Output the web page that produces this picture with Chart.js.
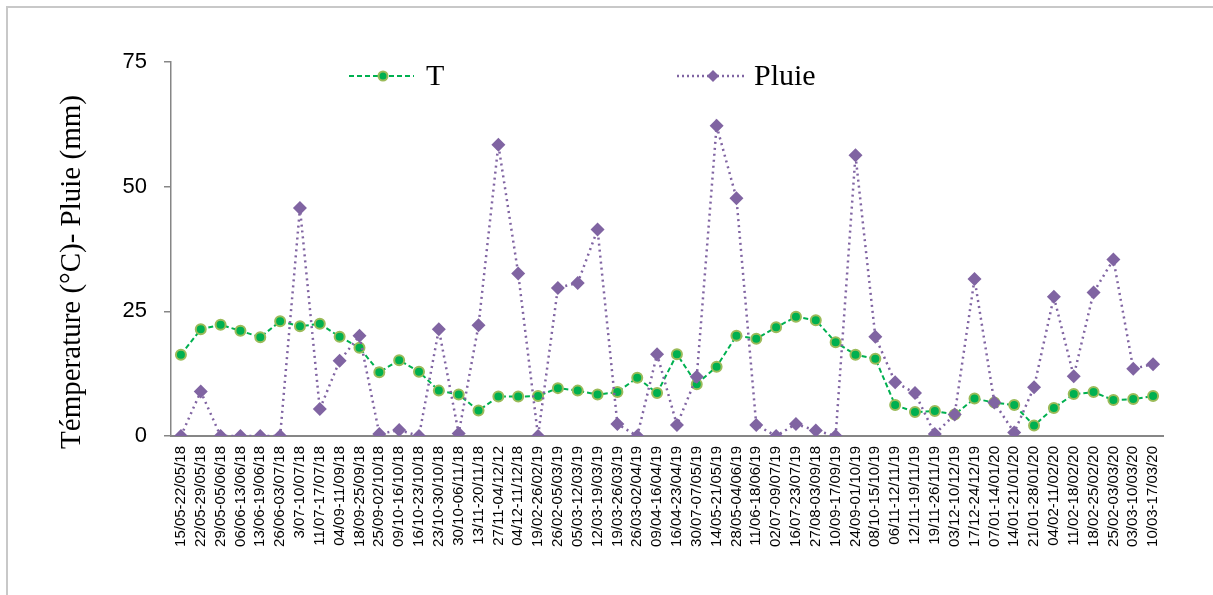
<!DOCTYPE html>
<html lang="fr">
<head>
  <meta charset="UTF-8" />
  <title>Température et pluie</title>
  <script src="https://cdn.jsdelivr.net/npm/chart.js"></script>
  <style>
    html, body { margin: 0; padding: 0; background: #ffffff; }
    #wrap { width: 1213px; height: 595px; position: relative; }
  </style>
</head>
<body>
  <div id="wrap"><canvas id="graphe" width="1213" height="595"></canvas></div>

  <script>
    // semaines de mesure
    const semaines = [
      '15/05-22/05/18', '22/05-29/05/18', '29/05-05/06/18', '06/06-13/06/18', '13/06-19/06/18',
      '26/06-03/07/18', '3/07-10/07/18', '11/07-17/07/18', '04/09-11/09/18', '18/09-25/09/18',
      '25/09-02/10/18', '09/10-16/10/18', '16/10-23/10/18', '23/10-30/10/18', '30/10-06/11/18',
      '13/11-20/11/18', '27/11-04/12/12', '04/12-11/12/18', '19/02-26/02/19', '26/02-05/03/19',
      '05/03-12/03/19', '12/03-19/03/19', '19/03-26/03/19', '26/03-02/04/19', '09/04-16/04/19',
      '16/04-23/04/19', '30/07-07/05/19', '14/05-21/05/19', '28/05-04/06/19', '11/06-18/06/19',
      '02/07-09/07/19', '16/07-23/07/19', '27/08-03/09/18', '10/09-17/09/19', '24/09-01/10/19',
      '08/10-15/10/19', '06/11-12/11/19', '12/11-19/11/19', '19/11-26/11/19', '03/12-10/12/19',
      '17/12-24/12/19', '07/01-14/01/20', '14/01-21/01/20', '21/01-28/01/20', '04/02-11/02/20',
      '11/02-18/02/20', '18/02-25/02/20', '25/02-03/03/20', '03/03-10/03/20', '10/03-17/03/20'
    ];

    // température moyenne (°C)
    const temperature = [
      16.3, 21.4, 22.3, 21.1, 19.8, 23.0, 22.0, 22.5, 19.9, 17.7,
      12.8, 15.2, 12.9, 9.1, 8.3, 5.1, 7.9, 7.9, 8.0, 9.6,
      9.1, 8.3, 8.8, 11.7, 8.6, 16.4, 10.4, 13.9, 20.1, 19.5,
      21.8, 23.9, 23.2, 18.8, 16.3, 15.5, 6.2, 4.8, 5.0, 4.3,
      7.5, 6.7, 6.2, 2.1, 5.6, 8.4, 8.8, 7.2, 7.4, 8.0
    ];

    // pluie cumulée (mm)
    const pluie = [
      0, 8.9, 0, 0, 0, 0, 45.7, 5.4, 15.1, 20.1,
      0.4, 1.2, 0, 21.4, 0.5, 22.2, 58.4, 32.6, 0, 29.7,
      30.7, 41.4, 2.4, 0, 16.4, 2.2, 11.9, 62.2, 47.7, 2.2,
      0, 2.4, 1.1, 0, 56.3, 19.9, 10.8, 8.6, 0.4, 4.3,
      31.5, 6.7, 0.7, 9.8, 27.9, 12.0, 28.8, 35.4, 13.5, 14.4
    ];

    const graduations = [0, 25, 50, 75];

    const VERT = '#00b050';
    const VERT_BORD = '#9bbb59';
    const VIOLET = '#8064a2';
    const GRIS = '#868686';

    // cadre, titre de l'axe Y et légende dessinés à la main
    const decor = {
      id: 'decor',
      beforeDraw(chart) {
        const ctx = chart.ctx;
        ctx.save();
        ctx.fillStyle = '#ffffff';
        ctx.fillRect(0, 0, chart.width, chart.height);
        ctx.strokeStyle = '#c8c8c8';
        ctx.lineWidth = 2;
        ctx.beginPath();
        ctx.moveTo(7, chart.height);
        ctx.lineTo(7, 7);
        ctx.lineTo(chart.width, 7);
        ctx.stroke();
        ctx.restore();
      },
      afterDraw(chart) {
        const ctx = chart.ctx;
        const zone = chart.chartArea;
        ctx.save();

        // titre de l'axe
        ctx.translate(72, 272);
        ctx.rotate(-Math.PI / 2);
        ctx.fillStyle = '#000';
        ctx.font = '29px "Liberation Serif", serif';
        ctx.textAlign = 'center';
        ctx.textBaseline = 'middle';
        ctx.fillText('Témperature (°C)- Pluie (mm)', 0, 0);
        ctx.restore();

        // légende
        const y = zone.top + 14;
        ctx.save();
        ctx.lineWidth = 2;
        ctx.strokeStyle = VERT;
        ctx.setLineDash([5, 3]);
        ctx.beginPath();
        ctx.moveTo(349, y); ctx.lineTo(414, y);
        ctx.stroke();
        ctx.setLineDash([]);
        ctx.fillStyle = VERT;
        ctx.strokeStyle = VERT_BORD;
        ctx.beginPath();
        ctx.arc(383, y, 4.5, 0, Math.PI * 2);
        ctx.fill(); ctx.stroke();

        ctx.strokeStyle = VIOLET;
        ctx.lineWidth = 2.5;
        ctx.setLineDash([2, 3]);
        ctx.beginPath();
        ctx.moveTo(677, y); ctx.lineTo(746, y);
        ctx.stroke();
        ctx.setLineDash([]);
        ctx.fillStyle = VIOLET;
        ctx.beginPath();
        ctx.moveTo(713, y - 6); ctx.lineTo(719, y); ctx.lineTo(713, y + 6); ctx.lineTo(707, y);
        ctx.closePath();
        ctx.fill();

        ctx.fillStyle = '#000';
        ctx.font = '30px "Liberation Serif", serif';
        ctx.textAlign = 'left';
        ctx.textBaseline = 'middle';
        ctx.fillText('T', 426, y + 1);
        ctx.fillText('Pluie', 754, y + 1);
        ctx.restore();
      }
    };

    new Chart(document.getElementById('graphe'), {
      type: 'line',
      data: {
        labels: semaines,
        datasets: [
          {
            label: 'T',
            data: temperature,
            order: 1,
            borderColor: VERT,
            borderWidth: 2,
            borderDash: [5, 3],
            pointStyle: 'circle',
            pointRadius: 5,
            pointBorderWidth: 2,
            pointBackgroundColor: VERT,
            pointBorderColor: VERT_BORD,
            tension: 0,
            fill: false
          },
          {
            label: 'Pluie',
            data: pluie,
            order: 0,
            borderColor: VIOLET,
            borderWidth: 2.5,
            borderDash: [2, 4],
            pointStyle: 'rectRot',
            pointRadius: 7,
            pointBorderWidth: 0,
            pointBackgroundColor: VIOLET,
            pointBorderColor: VIOLET,
            tension: 0,
            fill: false
          }
        ]
      },
      options: {
        responsive: false,
        animation: false,
        layout: { padding: { left: 0, top: 62, right: 50, bottom: 0 } },
        plugins: {
          legend: { display: false },
          tooltip: { enabled: false }
        },
        scales: {
          x: {
            offset: true,
            grid: { display: true, drawOnChartArea: false, drawTicks: false, offset: true },
            border: { display: true, color: GRIS, width: 2 },
            ticks: {
              color: '#000',
              font: { family: 'Liberation Sans', size: 15 },
              maxRotation: 90,
              minRotation: 90,
              autoSkip: false,
              padding: 10
            },
            afterFit(s) { s.height = 595 - 436; }
          },
          y: {
            min: 0,
            max: 75,
            afterBuildTicks(s) { s.ticks = graduations.map(v => ({ value: v })); },
            grid: { display: true, drawOnChartArea: false, drawTicks: true, tickLength: 7, color: GRIS, lineWidth: 1.5 },
            border: { display: true, color: GRIS, width: 1.5 },
            ticks: {
              color: '#000',
              font: { family: 'Liberation Sans', size: 22 },
              padding: 17
            },
            afterFit(s) { s.width = 171; }
          }
        }
      },
      plugins: [decor]
    });
  </script>
</body>
</html>
